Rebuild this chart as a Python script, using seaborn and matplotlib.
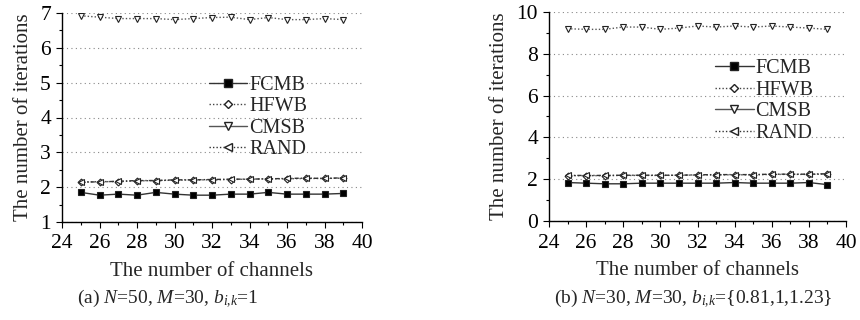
import matplotlib
matplotlib.use("Agg")
import matplotlib.pyplot as plt
import seaborn as sns
import pandas as pd
from matplotlib.lines import Line2D
from matplotlib.ticker import MultipleLocator

sns.set_style("white")
plt.rcParams['font.family'] = ['Liberation Serif', 'DejaVu Serif']
plt.rcParams['mathtext.fontset'] = 'custom'
plt.rcParams['mathtext.rm'] = 'Liberation Serif'
plt.rcParams['mathtext.it'] = 'Liberation Serif:italic'

channels = list(range(25, 40))

# (a) N=50, M=30, b=1
a_fcmb = [1.85, 1.77, 1.80, 1.77, 1.85, 1.80, 1.77, 1.77, 1.80, 1.80, 1.85, 1.80, 1.80, 1.80, 1.82]
a_hfwb = [2.14, 2.16, 2.16, 2.18, 2.19, 2.20, 2.21, 2.21, 2.22, 2.23, 2.24, 2.24, 2.25, 2.25, 2.26]
a_cmsb = [6.92, 6.88, 6.84, 6.84, 6.84, 6.81, 6.84, 6.87, 6.88, 6.81, 6.87, 6.81, 6.81, 6.84, 6.81]
a_rand = [2.15, 2.15, 2.17, 2.19, 2.19, 2.21, 2.21, 2.22, 2.23, 2.23, 2.24, 2.25, 2.26, 2.25, 2.27]

# (b) N=30, M=30, b={0.81,1,1.23}
b_fcmb = [1.84, 1.81, 1.78, 1.78, 1.81, 1.81, 1.81, 1.81, 1.81, 1.84, 1.81, 1.81, 1.81, 1.84, 1.74]
b_hfwb = [2.17, 2.17, 2.17, 2.18, 2.18, 2.18, 2.19, 2.20, 2.21, 2.21, 2.21, 2.23, 2.23, 2.23, 2.25]
b_cmsb = [9.20, 9.17, 9.17, 9.28, 9.28, 9.17, 9.23, 9.33, 9.28, 9.33, 9.28, 9.33, 9.28, 9.23, 9.17]
b_rand = [2.18, 2.18, 2.18, 2.19, 2.19, 2.19, 2.19, 2.21, 2.22, 2.22, 2.22, 2.24, 2.24, 2.24, 2.26]

names = ["FCMB", "HFWB", "CMSB", "RAND"]
x_label = "The number of channels"
y_label = "The number of iterations"
captions = ["(a) $N$=50, $M$=30, $b_{i{,}k}$=1",
            "(b) $N$=30, $M$=30, $b_{i{,}k}$={0.81,1,1.23}"]

styles = {
    "FCMB": dict(ls="-", marker="s", mfc="black", ms=4.5, color="#333333", lw=1.0),
    "HFWB": dict(ls=(0, (1, 1.5)), marker="D", mfc="white", ms=3.5, color="#444444", lw=1.0),
    "CMSB": dict(ls=(0, (1, 1.5)), marker="v", mfc="white", ms=5, color="#555555", lw=1.0),
    "RAND": dict(ls=(0, (3, 1.5, 1, 1.5)), marker="<", mfc="white", ms=5, color="#333333", lw=1.0),
}
legend_ls = {"FCMB": "-", "HFWB": (0, (1, 1.5)), "CMSB": "-", "RAND": (0, (1, 1.5))}

fig = plt.figure(figsize=(8.6, 3.2), dpi=100)
panels = [
    dict(rect=[62/860, 1-222/320, 300/860, 209/320], data=[a_fcmb, a_hfwb, a_cmsb, a_rand],
         ylim=(1, 7), ymaj=1, ymin=0.5, leg=(0.49, 0.70), cap_x=168/860),
    dict(rect=[549/860, 1-221/320, 297/860, 209/320], data=[b_fcmb, b_hfwb, b_cmsb, b_rand],
         ylim=(0, 10), ymaj=2, ymin=1, leg=(0.56, 0.775), cap_x=693/860),
]

for i, p in enumerate(panels):
    ax = fig.add_axes(p["rect"])
    for name, vals in zip(names, p["data"]):
        st = styles[name]
        df = pd.DataFrame({"x": channels, "y": vals})
        sns.lineplot(data=df, x="x", y="y", ax=ax, color=st["color"], linestyle=st["ls"],
                     lw=st["lw"], marker=st["marker"], markerfacecolor=st["mfc"],
                     markeredgecolor="#222222", markersize=st["ms"], markeredgewidth=0.8,
                     legend=False)
    ax.set_xlim(24, 40)
    ax.set_ylim(*p["ylim"])
    ax.xaxis.set_major_locator(MultipleLocator(2))
    ax.xaxis.set_minor_locator(MultipleLocator(1))
    ax.yaxis.set_major_locator(MultipleLocator(p["ymaj"]))
    ax.yaxis.set_minor_locator(MultipleLocator(p["ymin"]))
    ax.grid(axis="y", which="major", color="#888888", linestyle=(0, (1, 3)), lw=0.8)
    for s in ["top", "right"]:
        ax.spines[s].set_visible(False)
    for s in ["left", "bottom"]:
        ax.spines[s].set_color("black")
        ax.spines[s].set_linewidth(1.0)
    ax.tick_params(which="major", direction="out", length=4, width=0.8, colors="black",
                   labelsize=15.5, left=True, bottom=True, pad=4)
    ax.tick_params(which="minor", direction="out", length=2.5, width=0.8, colors="black",
                   left=True, bottom=True)
    ax.tick_params(axis="x", which="major", pad=5)
    ax.set_xlabel(x_label, fontsize=15, labelpad=6)
    ax.set_ylabel(y_label, fontsize=15, labelpad=5)
    handles = [Line2D([], [], color=styles[n]["color"], linestyle=legend_ls[n], lw=1.0,
                      marker=styles[n]["marker"], markerfacecolor=styles[n]["mfc"],
                      markeredgecolor="#222222", markersize=styles[n]["ms"] + 1)
               for n in names]
    ax.legend(handles, names, loc="upper left", bbox_to_anchor=p["leg"], frameon=False,
              fontsize=14.5, handlelength=1.9, handletextpad=0.1, labelspacing=0.12,
              borderpad=0, borderaxespad=0)
    fig.text(p["cap_x"], 1-299/320, captions[i], ha="center", va="center", fontsize=14)

fig.savefig("out.png", dpi=100, facecolor="white")
